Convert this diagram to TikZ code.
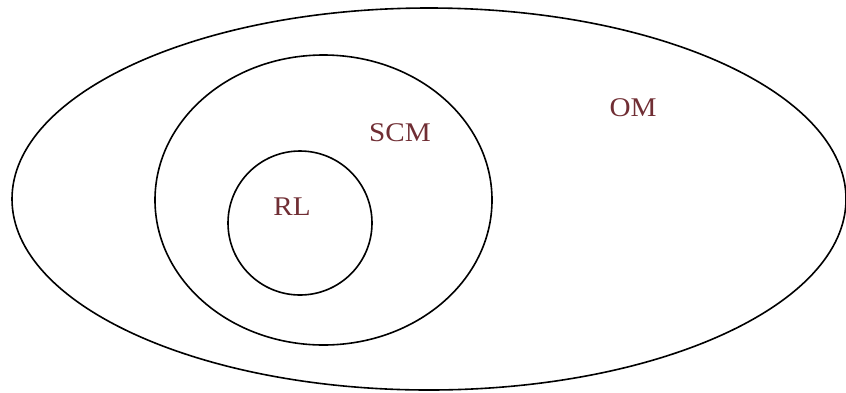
\documentclass[tikz,border=0pt]{standalone}
\usepackage{fontspec}
\setmainfont{Liberation Serif}
\definecolor{lbl}{RGB}{112,46,52}
\begin{document}
\begin{tikzpicture}[x=1pt,y=-1pt,
  ring/.style={draw=black,line width=1.6pt},
  lab/.style={text=lbl,font=\fontsize{27}{27}\selectfont,inner sep=0pt,xscale=1.08}]
\useasboundingbox (0,0) rectangle (846,392);
\draw[ring] (429,199) ellipse [x radius=417, y radius=191];
\draw[ring] (323.5,200) ellipse [x radius=168.5, y radius=145];
\draw[ring] (300,223) circle [radius=72];
\node[lab] (om) at (633,108) {OM};
\node[lab] (scm) at (400,133) {SCM};
\node[lab] (rl) at (292,207) {RL};
\end{tikzpicture}
\end{document}
